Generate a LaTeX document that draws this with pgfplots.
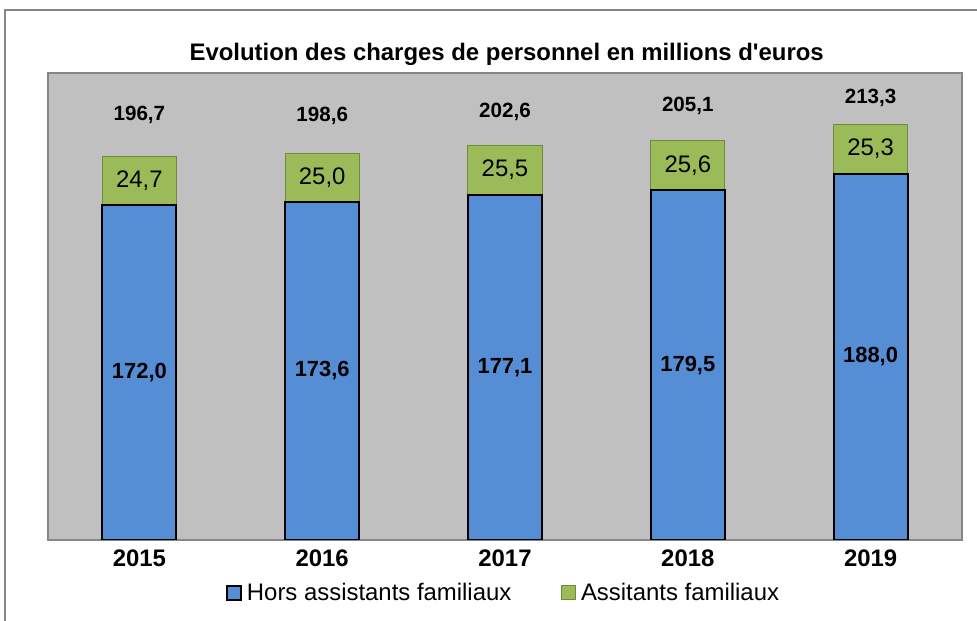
\documentclass[border=0pt]{standalone}
\usepackage{pgfplots}
\pgfplotsset{compat=1.18}
\usepackage{pgfplotstable}
\usepackage{fontspec}
\setmainfont{Liberation Sans}
\definecolor{bluebar}{HTML}{558ED5}
\definecolor{greenbar}{HTML}{9BBB59}
\definecolor{greenedge}{HTML}{71893F}
\definecolor{plotbg}{HTML}{C0C0C0}
\definecolor{frame}{HTML}{868686}

\pgfplotstableread{
x hors assist
0 172.0 24.7
1 173.6 25.0
2 177.1 25.5
3 179.5 25.6
4 188.0 25.3
}\charges

\pgfplotstableread{
x y label
0 218.2 196,7
1 217.7 198,6
2 219.7 202,6
3 222.8 205,1
4 226.9 213,3
}\totaux

\begin{document}
\begin{tikzpicture}
\path[use as bounding box] (0,0) rectangle (732.75bp,465.75bp);
\draw[frame, line width=0.9bp] (3.75bp,-2bp) -- (3.75bp,458.25bp) -- (740bp,458.25bp);
\node[anchor=base, font=\bfseries\fontsize{18}{21.6}\selectfont] at (380bp,420bp) {Evolution des charges de personnel en millions d\textquotesingle euros};

\begin{axis}[
  at={(36bp,60.75bp)}, anchor=south west,
  scale only axis, width=685.5bp, height=350.25bp,
  ybar stacked, bar width=0.405,
  xmin=-0.5, xmax=4.5, ymin=0, ymax=239.7,
  axis background/.style={fill=plotbg},
  axis line style={draw=frame, line width=1.2bp},
  ytick=\empty,
  xtick={0,1,2,3,4},
  xticklabels={2015,2016,2017,2018,2019},
  major x tick style={draw=none},
  tick pos=lower,
  extra x ticks={-0.5,0.5,1.5,2.5,3.5,4.5},
  extra x tick labels={},
  extra x tick style={tick align=outside, major tick length=5.25bp, tick style={draw=frame, line width=0.9bp}},
  xticklabel style={font=\bfseries\fontsize{18}{21.6}\selectfont, anchor=base, yshift=-20bp},
  legend style={at={(rel axis cs:0.5,-0.113)}, anchor=center, draw=none, fill=none,
    font=\fontsize{18}{21.6}\selectfont, legend columns=2,
    /tikz/every even column/.append style={column sep=33bp},
    nodes={inner xsep=4bp}},
  legend image code/.code={\draw[#1] (0bp,-5.25bp) rectangle (10.5bp,5.25bp);},
]
\addplot[fill=bluebar, draw=black, line width=1.5bp]
  table[x=x, y=hors] {\charges};
\addlegendentry{Hors assistants familiaux}
\addplot[fill=greenbar, draw=greenedge, line width=0.75bp]
  table[x=x, y=assist] {\charges};
\addlegendentry{Assitants familiaux}
\end{axis}

\begin{axis}[
  at={(36bp,60.75bp)}, anchor=south west,
  scale only axis, width=685.5bp, height=350.25bp,
  xmin=-0.5, xmax=4.5, ymin=0, ymax=239.7,
  hide axis,
  /pgf/number format/fixed, /pgf/number format/fixed zerofill, /pgf/number format/precision=1,
  /pgf/number format/use comma, /pgf/number format/assume math mode=true,
]
\addplot[only marks, mark=none, nodes near coords, point meta=\thisrow{hors},
  every node near coord/.append style={anchor=center, font=\bfseries\fontsize{16.5}{19.8}\selectfont}]
  table[x=x, y expr=\thisrow{hors}/2] {\charges};
\addplot[only marks, mark=none, nodes near coords, point meta=\thisrow{assist},
  every node near coord/.append style={anchor=center, font=\fontsize{18}{21.6}\selectfont}]
  table[x=x, y expr=\thisrow{hors}+\thisrow{assist}/2] {\charges};
\addplot[only marks, mark=none,
  nodes near coords, point meta=explicit symbolic,
  every node near coord/.append style={anchor=center, font=\bfseries\fontsize{15.5}{18.6}\selectfont}]
  table[x=x, y=y, meta=label] {\totaux};
\end{axis}
\end{tikzpicture}
\end{document}
